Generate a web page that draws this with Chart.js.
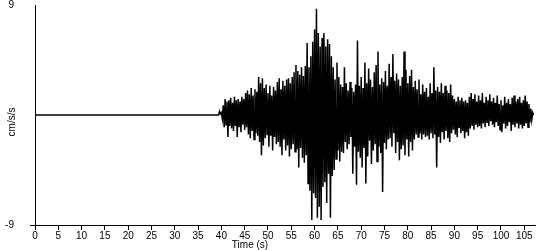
<!DOCTYPE html>
<html>
<head>
<meta charset="utf-8">
<style>
  html, body { margin: 0; padding: 0; background: #fff; }
  #wrap { position: relative; width: 550px; height: 250px; }
</style>
<script src="https://cdn.jsdelivr.net/npm/chart.js"></script>
</head>
<body>
<div id="wrap"><canvas id="seisChart" width="550" height="250"></canvas></div>
<script>
// quiet record before the arrival
const preTimes = [0, 39.4, 39.6, 39.8];
const preValues = [0, 0, 0.3, 0.1];

// acceleration samples (cm/s/s), one every 0.2 s from 40 s
const sampleStart = 40.0;
const sampleStep = 0.2;
const accel = [
  0.2,-0.3,0.8,-1.0,1.3,-0.8,1.1,-1.8,1.2,-0.9,
  1.4,-1.1,1.0,-1.3,1.5,-0.9,1.2,-1.8,1.3,-1.0,
  1.1,-1.4,1.5,-0.8,1.3,-1.2,1.8,-1.0,2.0,-1.6,
  1.7,-1.9,2.2,-1.3,1.6,-2.0,2.1,-1.5,1.9,-1.7,
  3.1,-2.2,2.6,-3.3,3.0,-2.5,2.2,-1.9,2.5,-1.6,
  1.8,-2.6,2.4,-1.7,1.6,-2.9,2.3,-1.8,2.0,-2.4,
  2.7,-2.2,3.0,-2.6,2.1,-3.3,2.8,-2.0,2.4,-2.9,
  2.9,-2.5,3.0,-3.4,2.6,-2.8,3.1,-2.4,3.5,-3.0,
  4.1,-2.8,3.6,-4.3,3.3,-2.7,3.9,-3.5,3.2,-3.9,
  4.0,-3.3,5.9,-5.6,3.9,-6.2,4.8,-8.6,6.0,-6.4,
  7.0,-6.8,8.7,-8.4,6.7,-7.5,5.6,-8.6,6.3,-5.9,
  6.7,-5.5,5.6,-7.2,6.2,-4.8,5.8,-8.4,4.8,-5.0,
  3.9,-4.5,2.9,-3.6,4.3,-2.9,3.1,-3.8,2.5,-3.0,
  2.3,-3.1,3.9,-2.2,2.6,-2.8,2.0,-2.4,2.7,-1.8,
  2.2,-4.8,1.9,-2.6,2.5,-5.7,6.1,-3.0,2.4,-3.5,
  3.1,-4.3,2.2,-2.7,4.3,-5.6,2.6,-3.4,3.8,-2.1,
  2.9,-4.0,2.3,-2.9,3.5,-2.4,4.1,-3.8,5.2,-2.6,
  2.5,-3.1,3.0,-6.3,2.7,-2.3,3.6,-2.8,2.4,-2.0,
  4.2,-1.9,3.1,-2.6,5.0,-1.5,2.8,-3.1,3.4,-2.2,
  2.9,-3.7,2.4,-2.8,3.1,-2.5,5.2,-3.3,3.7,-2.0,
  2.6,-3.4,3.2,-2.2,3.7,-2.9,2.3,-2.0,2.8,-1.6,
  2.1,-1.8,2.9,-1.5,1.7,-2.0,2.5,-1.6,1.9,-1.8,
  2.2,-1.7,1.5,-2.0,2.6,-1.5,1.8,-1.9,3.9,-1.6,
  2.0,-4.3,2.3,-1.8,1.9,-2.3,2.6,-1.4,1.8,-2.0,
  2.4,-1.3,2.0,-1.9,1.8,-2.2,2.5,-1.5,1.6,-1.2,
  1.3,-1.6,1.1,-1.8,1.5,-1.0,1.2,-1.5,1.4,-1.3,
  1.1,-1.9,1.2,-1.4,1.0,-1.7,1.5,-1.1,1.8,-0.9,
  1.3,-1.2,1.7,-0.8,1.1,-1.0,1.6,-0.9,1.2,-1.1,
  1.8,-0.7,1.0,-1.0,1.5,-0.6,1.2,-0.9,1.7,-0.5,
  1.1,-0.8,1.4,-1.0,1.0,-0.6,1.6,-0.9,0.9,-1.2,
  1.2,-1.4,0.8,-0.7,1.5,-1.1,1.0,-0.9,1.3,-0.6,
  0.9,-1.3,1.4,-0.8,1.6,-1.0,1.1,-0.7,1.3,-1.1,
  1.5,-0.8,1.0,-1.1,1.2,-0.9,1.6,-0.7,1.1,-1.0,
  0.9,-0.6,0.5,-0.4,0.2,0.0
];

// axis ticks
const xTickValues = [0,5,10,15,20,25,30,35,40,45,50,55,60,65,70,75,80,85,90,95,100,105];
const yTickValues = [-9, 9];
const xMax = 107.3;

const points = [];
preTimes.forEach(function(t, i) { points.push({ x: t, y: preValues[i] }); });
accel.forEach(function(v, i) {
    points.push({ x: +(sampleStart + i * sampleStep).toFixed(2), y: v });
});

const FONT = { family: 'Liberation Sans, Arial, sans-serif', size: 10 };

// axis titles drawn at the reference spots
const axisTitles = {
    id: 'axisTitles',
    afterDraw: function(chart) {
        const ctx = chart.ctx;
        ctx.save();
        ctx.fillStyle = '#000';
        ctx.font = '10px Liberation Sans, Arial, sans-serif';
        ctx.textAlign = 'center';
        ctx.textBaseline = 'middle';
        ctx.fillText('Time (s)', 250, 245);
        ctx.translate(12, 122);
        ctx.rotate(-Math.PI / 2);
        ctx.fillText('cm/s/s', 0, 0);
        ctx.restore();
    }
};

new Chart(document.getElementById('seisChart'), {
    type: 'line',
    data: {
        datasets: [{
            data: points,
            borderColor: '#000',
            borderWidth: 1.5,
            pointRadius: 0,
            tension: 0,
            fill: false
        }]
    },
    options: {
        responsive: false,
        animation: false,
        layout: { padding: { top: 5, right: 15, left: 0, bottom: 0 } },
        plugins: {
            legend: { display: false },
            tooltip: { enabled: false }
        },
        scales: {
            x: {
                type: 'linear',
                min: 0,
                max: xMax,
                afterBuildTicks: function(scale) {
                    scale.ticks = xTickValues.map(function(v) { return { value: v }; });
                },
                afterFit: function(scale) { scale.height = 25; },
                border: { color: '#000', width: 1 },
                grid: { drawOnChartArea: false, color: '#000', tickLength: 5 },
                ticks: { color: '#000', font: FONT, padding: 0, maxRotation: 0, autoSkip: false }
            },
            y: {
                min: -9,
                max: 9,
                afterBuildTicks: function(scale) {
                    scale.ticks = yTickValues.map(function(v) { return { value: v }; });
                },
                afterFit: function(scale) {
                    scale.width = 35;
                    scale.paddingTop = 0;
                    scale.paddingBottom = 0;
                },
                border: { color: '#000', width: 1 },
                grid: {
                    drawOnChartArea: false,
                    tickLength: 5,
                    color: function(c) { return c.tick && c.tick.value === -9 ? '#000' : 'rgba(0,0,0,0)'; }
                },
                ticks: { color: '#000', font: FONT, padding: 16 }
            }
        }
    },
    plugins: [axisTitles]
});
</script>
</body>
</html>
